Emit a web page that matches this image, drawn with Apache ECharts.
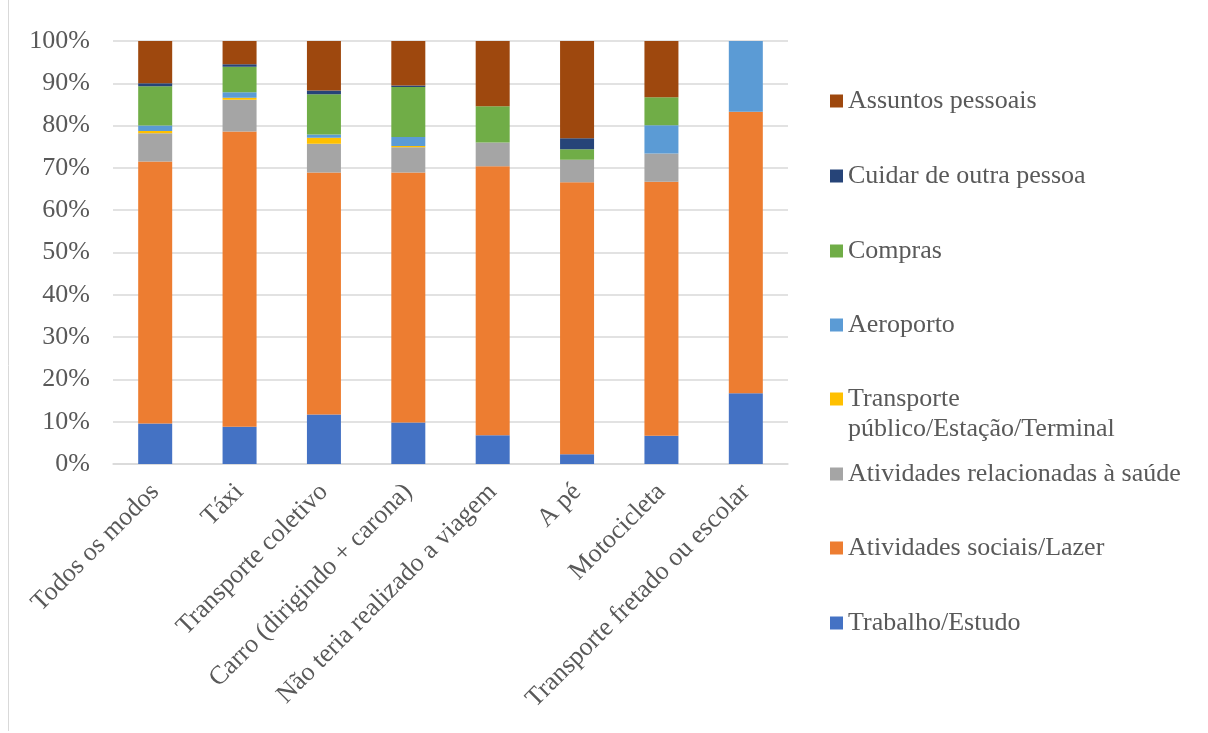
<!DOCTYPE html>
<html>
<head>
<meta charset="utf-8">
<script src="https://cdn.jsdelivr.net/npm/echarts@6/dist/echarts.min.js"></script>
<style>
  html, body { margin: 0; padding: 0; background: #fff; }
  #chart { width: 1208px; height: 733px; }
</style>
</head>
<body>
<div id="chart"></div>
<script>
const categories = ['Todos os modos', 'Táxi', 'Transporte coletivo', 'Carro (dirigindo + carona)',
  'Não teria realizado a viagem', 'A pé', 'Motocicleta', 'Transporte fretado ou escolar']

// shares per mode of transport, in percent
const trabalho = [9.6, 8.8, 11.7, 9.8, 6.8, 2.3, 6.7, 16.7]
const lazer = [61.9, 69.8, 57.2, 59.1, 63.6, 64.3, 60.0, 66.6]
const saude = [6.7, 7.5, 6.8, 6.0, 5.6, 5.3, 6.7, 0]
const transportePublico = [0.5, 0.5, 1.4, 0.3, 0, 0, 0, 0]
const aeroporto = [1.3, 1.3, 0.8, 2.1, 0, 0, 6.7, 16.7]
const compras = [9.3, 6.0, 9.5, 11.8, 8.6, 2.5, 6.6, 0]
const cuidar = [0.7, 0.6, 0.9, 0.4, 0, 2.6, 0, 0]
const assuntos = [10.0, 5.5, 11.7, 10.5, 15.4, 23.0, 13.3, 0]

const yTicks = [0, 10, 20, 30, 40, 50, 60, 70, 80, 90, 100]

const stackOrder = [
  { name: 'Trabalho/Estudo', data: trabalho, color: '#4472C4' },
  { name: 'Atividades sociais/Lazer', data: lazer, color: '#ED7D31' },
  { name: 'Atividades relacionadas à saúde', data: saude, color: '#A5A5A5' },
  { name: 'Transporte público/Estação/Terminal', data: transportePublico, color: '#FFC000' },
  { name: 'Aeroporto', data: aeroporto, color: '#5B9BD5' },
  { name: 'Compras', data: compras, color: '#70AD47' },
  { name: 'Cuidar de outra pessoa', data: cuidar, color: '#264478' },
  { name: 'Assuntos pessoais', data: assuntos, color: '#9E480E' },
]

const textColor = '#595959'
const font = '"Liberation Serif", "Times New Roman", serif'
const fontSize = 26

// legend rows top to bottom, centre y of each marker
const legendRows = [
  ['Assuntos pessoais', 101],
  ['Cuidar de outra pessoa', 176],
  ['Compras', 251],
  ['Aeroporto', 325],
  ['Transporte público/Estação/Terminal', 399],
  ['Atividades relacionadas à saúde', 474],
  ['Atividades sociais/Lazer', 548],
  ['Trabalho/Estudo', 623],
]

const legends = legendRows.map(([name, cy]) => {
  const twoLine = name.startsWith('Transporte')
  return {
    orient: 'vertical',
    left: 830,
    top: twoLine ? cy - 45 : cy - 15,
    icon: 'rect',
    itemWidth: 13,
    itemHeight: 13,
    padding: 0,
    data: [name],
    formatter: twoLine ? () => '\nTransporte\npúblico/Estação/Terminal' : undefined,
    textStyle: { color: textColor, fontFamily: font, fontSize, lineHeight: 30 },
  }
})

const chart = echarts.init(document.getElementById('chart'))
chart.setOption({
  animation: false,
  textStyle: { fontFamily: font },
  legend: legends,
  grid: { left: 113, right: 420, top: 41, bottom: 269 },
  xAxis: {
    type: 'category',
    data: categories,
    axisTick: { show: false },
    axisLine: { lineStyle: { color: '#D9D9D9', width: 1.5 } },
    axisLabel: {
      interval: 0, rotate: 45, margin: 24,
      color: textColor, fontFamily: font, fontSize,
    },
  },
  yAxis: {
    type: 'value',
    min: yTicks[0],
    max: yTicks[yTicks.length - 1],
    interval: yTicks[1] - yTicks[0],
    axisLine: { show: false },
    axisTick: { show: false },
    axisLabel: { formatter: '{value}%', margin: 23, color: textColor, fontFamily: font, fontSize },
    splitLine: { lineStyle: { color: '#D9D9D9', width: 1.5 } },
  },
  graphic: [{
    type: 'line',
    shape: { x1: 8.5, y1: 0, x2: 8.5, y2: 731 },
    style: { stroke: '#D9D9D9', lineWidth: 1 },
  }],
  series: stackOrder.map(s => ({
    name: s.name,
    type: 'bar',
    stack: 'total',
    barWidth: 34,
    data: s.data,
    itemStyle: { color: s.color },
  })),
})
</script>
</body>
</html>
